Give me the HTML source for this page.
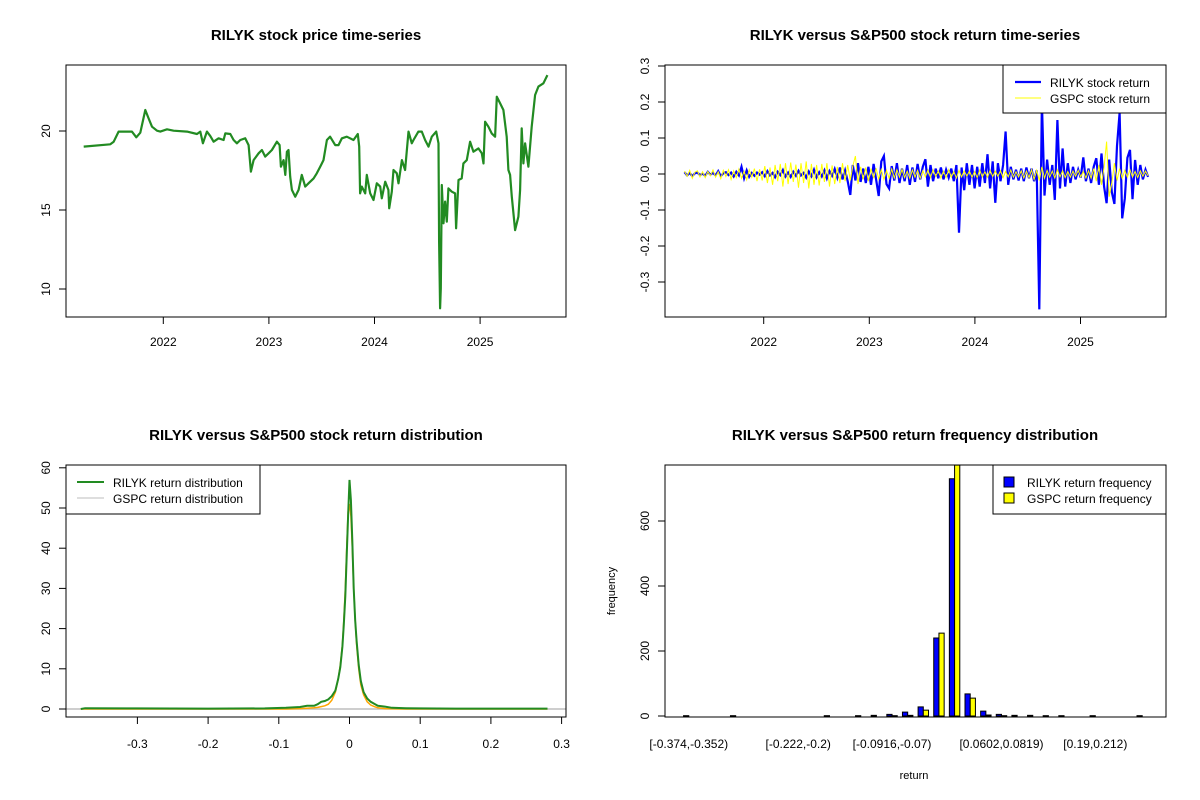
<!DOCTYPE html>
<html><head><meta charset="utf-8"><style>
html,body{margin:0;padding:0;background:#fff;}
svg{display:block;font-family:"Liberation Sans",Arial,sans-serif;}
</style></head><body>
<svg id="s" width="1200" height="800" viewBox="0 0 1200 800" xmlns="http://www.w3.org/2000/svg"></svg>
<script>
// ---------- data ----------
const priceYears=[2021.246,2021.498,2021.53,2021.577,2021.703,2021.744,2021.782,2021.83,2021.861,2021.893,2021.94,2021.972,2022.035,2022.098,2022.224,2022.319,2022.35,2022.375,2022.413,2022.445,2022.476,2022.524,2022.571,2022.587,2022.634,2022.666,2022.697,2022.729,2022.776,2022.808,2022.83,2022.855,2022.902,2022.934,2022.965,2022.997,2023.028,2023.076,2023.101,2023.114,2023.139,2023.155,2023.17,2023.186,2023.202,2023.218,2023.249,2023.281,2023.312,2023.344,2023.375,2023.423,2023.454,2023.486,2023.517,2023.549,2023.58,2023.628,2023.659,2023.691,2023.738,2023.801,2023.842,2023.855,2023.864,2023.88,2023.912,2023.927,2023.959,2023.991,2024.022,2024.054,2024.069,2024.101,2024.132,2024.139,2024.164,2024.18,2024.211,2024.227,2024.259,2024.29,2024.322,2024.353,2024.369,2024.416,2024.448,2024.479,2024.511,2024.543,2024.584,2024.606,2024.612,2024.621,2024.628,2024.637,2024.653,2024.669,2024.685,2024.7,2024.732,2024.763,2024.773,2024.795,2024.826,2024.842,2024.874,2024.905,2024.937,2024.984,2025.016,2025.032,2025.047,2025.079,2025.11,2025.142,2025.158,2025.189,2025.221,2025.252,2025.268,2025.284,2025.3,2025.331,2025.363,2025.379,2025.394,2025.41,2025.426,2025.457,2025.489,2025.521,2025.552,2025.599,2025.637];
const priceValues=[19.01,19.16,19.32,19.96,19.96,19.6,19.89,21.33,20.8,20.27,20.02,19.96,20.11,20.02,19.96,19.81,19.96,19.22,19.96,19.68,19.32,19.54,19.43,19.85,19.81,19.43,19.22,19.43,19.54,19.11,17.43,18.16,18.59,18.8,18.38,18.59,18.8,19.32,19.11,17.74,18.16,17.22,18.69,18.8,17.11,16.27,15.84,16.27,17.22,16.48,16.69,17.0,17.32,17.74,18.16,19.43,19.64,19.11,19.11,19.54,19.64,19.43,19.81,19.01,16.05,16.48,16.05,17.22,16.05,15.63,16.69,16.48,15.74,16.79,16.27,15.11,16.16,17.53,17.32,16.69,18.16,17.53,19.96,19.22,19.43,19.96,19.96,19.43,19.01,19.64,19.96,19.22,13.0,8.78,10.04,16.58,14.16,15.53,14.26,16.37,16.16,16.05,13.84,16.9,17.0,17.95,18.16,19.32,18.69,18.9,18.59,17.95,20.59,20.27,19.85,19.64,22.17,21.75,21.33,19.64,17.53,17.22,15.84,13.73,14.58,16.27,20.17,17.95,19.22,17.74,20.27,22.28,22.81,23.02,23.54];
const yearTicks=[2022,2023,2024,2025];
const priceTicks=[10,15,20];
const returnStart=2021.25, returnEnd=2025.64;
const rilykReturns=[.005,-.004,.003,-.006,.002,.004,-.003,.001,-.005,.006,
-.002,.003,-.004,.008,-.006,.002,.005,-.003,.004,-.007,
.006,-.004,.02,-.012,.01,-.008,.003,-.005,.004,-.002,
.005,-.006,.008,-.004,.003,-.009,.006,-.003,.011,-.007,
.004,-.008,.006,-.005,.009,-.004,.003,-.010,.007,-.006,
.012,-.009,.005,-.007,.010,-.012,.008,-.005,.014,-.010,
.018,-.015,.010,-.020,-.058,.025,-.018,.030,-.022,.015,
-.025,.020,-.030,.028,-.015,-.061,.035,.050,-.028,-.040,
.022,-.018,.030,-.025,.015,-.020,.025,-.030,.018,-.022,
.028,-.015,.020,.041,-.035,.025,-.020,.015,-.012,.018,
-.015,.012,-.010,.015,-.020,.025,-.163,.018,-.045,.030,
-.030,.025,-.040,.020,-.035,.030,-.025,.055,-.040,.035,
-.080,.030,-.020,.025,.118,-.030,.020,-.015,.012,-.018,
.015,-.020,.018,-.012,.015,-.020,.010,-.376,.200,-.060,
.040,-.030,.025,-.072,.150,-.040,.071,-.035,.030,-.025,
.020,-.015,.012,-.010,.046,-.020,.015,-.025,.020,.044,
-.030,.057,-.035,-.081,.040,-.050,-.083,.078,.170,-.123,
-.068,.045,.067,-.070,.039,-.030,.025,-.015,.012,-.008];
const gspcReturns=[.008,-.006,.010,-.012,.005,.009,-.008,.006,-.010,.007,
-.005,.011,-.009,.006,-.013,.010,-.007,.012,-.015,.009,
-.010,.014,-.012,.008,-.016,.012,-.009,.015,-.020,.013,
-.018,.022,-.025,.018,-.030,.025,-.020,.028,-.035,.030,
-.028,.032,-.022,.026,-.038,.030,-.025,.035,-.040,.028,
-.030,.025,-.032,.028,-.022,.030,-.035,.024,-.028,.020,
-.025,.030,-.020,.025,-.018,.022,.050,-.028,.020,-.015,
.018,-.020,.015,-.012,.016,-.014,.012,-.015,.010,-.012,
.014,-.011,.012,-.009,.013,-.010,.008,-.012,.011,-.009,
.010,-.012,.009,-.008,.011,-.010,.012,-.007,.009,-.011,
.008,-.010,.012,-.009,.007,-.011,.010,-.008,.009,-.006,
.008,-.009,.007,-.010,.011,-.008,.006,-.009,.010,-.007,
.008,-.006,.009,-.010,.007,-.008,.011,-.009,.006,-.008,
.009,-.011,.008,-.010,.012,-.015,.010,-.018,.020,-.012,
.010,-.009,.008,-.011,.012,-.008,.009,-.010,.007,-.009,
.008,-.006,.010,-.008,.007,-.011,.009,-.012,.015,-.020,
.025,-.030,.020,.090,-.063,-.025,.030,-.018,.015,-.012,
.010,-.009,.011,-.008,.007,-.010,.009,-.006,.008,-.005];
const returnTicks=[-0.3,-0.2,-0.1,0.0,0.1,0.2,0.3];
const returnTickLabels=["-0.3","-0.2","-0.1","0.0","0.1","0.2","0.3"];
const densX=[-0.38,-0.374,-0.3,-0.2,-0.12,-0.09,-0.07,-0.06,-0.05,-0.045,-0.04,-0.035,-0.03,-0.025,-0.02,-0.016,-0.013,-0.01,-0.008,-0.006,-0.004,-0.002,0,0.002,0.004,0.006,0.008,0.01,0.013,0.016,0.02,0.025,0.03,0.035,0.04,0.05,0.06,0.08,0.1,0.15,0.2,0.28];
const rilykDens=[0,0.2,0.15,0.1,0.15,0.3,0.5,0.8,0.8,1.2,1.8,2.0,2.4,3.2,4.6,7.5,10.4,15.5,21,28,38,48,57,52,42,30,22,17,11,7,4.2,2.6,1.8,1.3,0.8,0.6,0.3,0.2,0.15,0.1,0.1,0.1];
const gspcDens=[0,0,0,0,0,0,0.1,0.2,0.3,0.4,0.6,0.8,1.2,2.2,4.2,7.5,11,16,22,30,40,49,51,48,40,30,22,16,10,6,3.5,1.8,1,0.6,0.3,0.1,0.05,0,0,0,0,0];
const densXTicks=[-0.3,-0.2,-0.1,0.0,0.1,0.2,0.3];
const densYTicks=[0,10,20,30,40,50,60];
const binLabels=["[-0.374,-0.352)","[-0.352,-0.331)","[-0.331,-0.309)","[-0.309,-0.287)","[-0.287,-0.265)","[-0.265,-0.244)","[-0.244,-0.222)","[-0.222,-0.2)","[-0.2,-0.179)","[-0.179,-0.157)","[-0.157,-0.135)","[-0.135,-0.113)","[-0.113,-0.0916)","[-0.0916,-0.07)","[-0.07,-0.0483)","[-0.0483,-0.0266)","[-0.0266,-0.00485)","[-0.00485,0.0169)","[0.0169,0.0385)","[0.0385,0.0602)","[0.0602,0.0819)","[0.0819,0.104)","[0.104,0.125)","[0.125,0.147)","[0.147,0.169)","[0.169,0.19)","[0.19,0.212)","[0.212,0.234)","[0.234,0.256)","[0.256,0.277)"];
const shownBinLabels=[0,7,13,20,26];
const rilykFreq=[1,0,0,1,0,0,0,0,0,1,0,1,2,5,12,28,240,730,68,15,5,2,2,1,1,0,1,0,0,1];
const gspcFreq=[0,0,0,0,0,0,0,0,0,0,0,0,0,1,2,18,255,772,55,3,1,0,0,0,0,0,0,0,0,0];
const freqTicks=[0,200,400,600];

// ---------- helpers ----------
const NS="http://www.w3.org/2000/svg";
const svg=document.getElementById('s');
function mk(tag,attrs,parent){const e=document.createElementNS(NS,tag);for(const k in attrs)e.setAttribute(k,attrs[k]);(parent||svg).appendChild(e);return e;}
function txt(str,x,y,size,opts,parent){opts=opts||{};const e=mk('text',{x:x,y:y,'font-size':size,'text-anchor':opts.anchor||'middle',fill:'#000','font-weight':opts.bold?'bold':'normal'},parent);if(opts.rot)e.setAttribute('transform','rotate(-90 '+x+' '+y+')');e.textContent=str;return e;}
function frame(x0,y0,x1,y1,g){return mk('rect',{x:x0,y:y0,width:x1-x0,height:y1-y0,fill:'none',stroke:'#000','stroke-width':1},g);}

// ===== Panel 1: price =====
const p1=mk('g',{});


const yrX1=y=>163.3+(y-2022)*105.6;
const prY=p=>131-(p-20)*15.8;
let t=txt('RILYK stock price time-series',316,40,15,{bold:true},p1);


let d='';priceYears.forEach((y,i)=>{d+=(i?'L':'M')+yrX1(y).toFixed(1)+','+prY(priceValues[i]).toFixed(1);});
let ln=mk('path',{d:d,fill:'none',stroke:'#228B22','stroke-width':2.2,'stroke-linejoin':'round'},p1);


frame(66,65,566,317,p1);
yearTicks.forEach(y=>{const x=yrX1(y);mk('line',{x1:x,y1:317,x2:x,y2:324,stroke:'#000'},p1);let l=txt(String(y),x,346,12,{},p1);});
priceTicks.forEach(v=>{const y=prY(v);mk('line',{x1:59,y1:y,x2:66,y2:y,stroke:'#000'},p1);let l=txt(String(v),50,y,12,{rot:true},p1);});

// ===== Panel 2: returns =====
const p2=mk('g',{});


const yrX2=y=>763.7+(y-2022)*105.6;
const rY=r=>174-r*360;
t=txt('RILYK versus S&P500 stock return time-series',915,40,15,{bold:true},p2);


const clip=mk('clipPath',{id:'c2'},p2);mk('rect',{x:665,y:65,width:501,height:252},clip);
function retPath(arr){let s='';const n=arr.length;arr.forEach((r,i)=>{const yr=returnStart+(returnEnd-returnStart)*i/(n-1);s+=(i?'L':'M')+yrX2(yr).toFixed(1)+','+rY(r).toFixed(1);});return s;}
ln=mk('path',{d:retPath(rilykReturns),fill:'none',stroke:'#0000FF','stroke-width':2.2,'clip-path':'url(#c2)'},p2);


ln=mk('path',{d:retPath(gspcReturns),fill:'none',stroke:'#FFFF00','stroke-width':1,'clip-path':'url(#c2)'},p2);


frame(665,65,1166,317,p2);
yearTicks.forEach(y=>{const x=yrX2(y);mk('line',{x1:x,y1:317,x2:x,y2:324,stroke:'#000'},p2);let l=txt(String(y),x,346,12,{},p2);});
returnTicks.forEach((v,i)=>{const y=rY(v);mk('line',{x1:658,y1:y,x2:665,y2:y,stroke:'#000'},p2);let l=txt(returnTickLabels[i],649,y,12,{rot:true},p2);});
let lg=mk('g',{},p2);


mk('rect',{x:1003,y:65,width:163,height:48,fill:'#fff',stroke:'#000'},lg);
mk('line',{x1:1015,y1:82,x2:1041,y2:82,stroke:'#0000FF','stroke-width':2.2},lg);
mk('line',{x1:1015,y1:98,x2:1041,y2:98,stroke:'#FFFF00','stroke-width':1},lg);
txt('RILYK stock return',1050,87,12,{anchor:'start'},lg);
txt('GSPC stock return',1050,103,12,{anchor:'start'},lg);

// ===== Panel 3: density =====
const p3=mk('g',{});


const dX=v=>349.5+v*707;
const dY=v=>709-v*4.02;
t=txt('RILYK versus S&P500 stock return distribution',316,440,15,{bold:true},p3);


mk('line',{x1:66,y1:dY(0),x2:566,y2:dY(0),stroke:'#BEBEBE','stroke-width':1.5},p3);
function dPath(ys){let s='';densX.forEach((x,i)=>{s+=(i?'L':'M')+dX(x).toFixed(1)+','+dY(ys[i]).toFixed(1);});return s;}
ln=mk('path',{d:dPath(gspcDens),fill:'none',stroke:'#FFA500','stroke-width':1.5},p3);


ln=mk('path',{d:dPath(rilykDens),fill:'none',stroke:'#228B22','stroke-width':2},p3);


frame(66,465,566,717,p3);
densXTicks.forEach(v=>{const x=dX(v);mk('line',{x1:x,y1:717,x2:x,y2:724,stroke:'#000'},p3);let l=txt(String(v),x,748,12,{},p3);});
densYTicks.forEach(v=>{const y=dY(v);mk('line',{x1:59,y1:y,x2:66,y2:y,stroke:'#000'},p3);let l=txt(String(v),50,y,12,{rot:true},p3);});
lg=mk('g',{},p3);


mk('rect',{x:66,y:465,width:194,height:49,fill:'#fff',stroke:'#000'},lg);
mk('line',{x1:77,y1:482,x2:104,y2:482,stroke:'#228B22','stroke-width':2},lg);
mk('line',{x1:77,y1:498,x2:104,y2:498,stroke:'#BEBEBE','stroke-width':1},lg);
txt('RILYK return distribution',113,487,12,{anchor:'start'},lg);
txt('GSPC return distribution',113,503,12,{anchor:'start'},lg);

// ===== Panel 4: histogram =====
const p4=mk('g',{});


const uX=u=>665+(u+2.56)*5.212;
const fY=v=>716-v*0.325;
t=txt('RILYK versus S&P500 return frequency distribution',915,440,15,{bold:true},p4);


rilykFreq.forEach((v,g)=>{
  const b=mk('rect',{x:uX(1+3*g),y:fY(v),width:uX(2+3*g)-uX(1+3*g),height:Math.max(0,fY(0)-fY(v)),fill:'#0000FF',stroke:'#000','stroke-width':1},p4);
  
  
  const c=mk('rect',{x:uX(2+3*g),y:fY(gspcFreq[g]),width:uX(3+3*g)-uX(2+3*g),height:Math.max(0,fY(0)-fY(gspcFreq[g])),fill:'#FFFF00',stroke:'#000','stroke-width':1},p4);
  
  
});
frame(665,465,1166,717,p4);
freqTicks.forEach(v=>{const y=fY(v);mk('line',{x1:658,y1:y,x2:665,y2:y,stroke:'#000'},p4);let l=txt(String(v),649,y,12,{rot:true},p4);});
shownBinLabels.forEach(g=>{let l=txt(binLabels[g],uX(2+3*g),748,12,{},p4);});
t=txt('frequency',615,591,11,{rot:true},p4);


t=txt('return',914,779,11,{},p4);


lg=mk('g',{},p4);


mk('rect',{x:993,y:465,width:173,height:49,fill:'#fff',stroke:'#000'},lg);
mk('rect',{x:1004,y:477,width:10,height:10,fill:'#0000FF',stroke:'#000'},lg);
mk('rect',{x:1004,y:493,width:10,height:10,fill:'#FFFF00',stroke:'#000'},lg);
txt('RILYK return frequency',1027,487,12,{anchor:'start'},lg);
txt('GSPC return frequency',1027,503,12,{anchor:'start'},lg);
</script>
</body></html>
